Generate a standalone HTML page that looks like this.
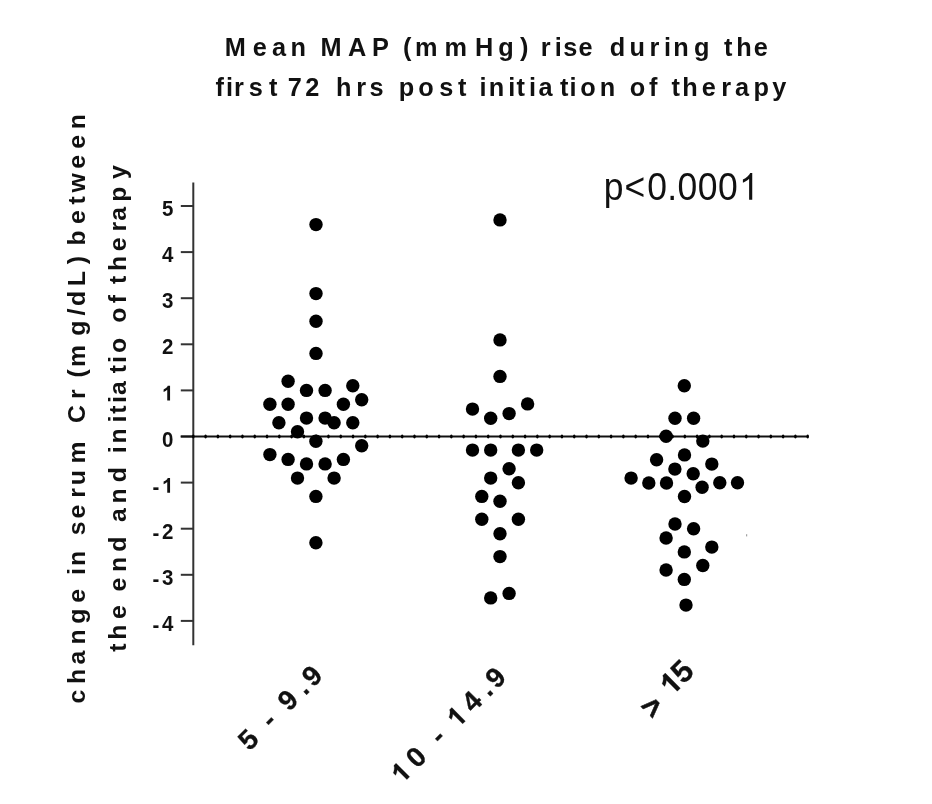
<!DOCTYPE html><html><head><meta charset="utf-8"><style>html,body{margin:0;padding:0;background:#fff;width:932px;height:804px;overflow:hidden}svg{display:block;will-change:transform}text{font-family:"Liberation Sans",sans-serif}</style></head><body>
<svg width="932" height="804" viewBox="0 0 932 804">
<rect width="932" height="804" fill="#fff"/>
<text y="55.8" x="224.7 252.7 272.1 290.4 305.9 320.5 347.9 371.9 388.8 403.0 415.1 444.5 475.1 498.2 520.1 528.5 540.7 554.7 563.2 578.4 592.5 609.8 629.4 649.5 663.9 673.3 693.9 709.3 723.9 736.3 753.8" font-weight="bold" font-size="25.3" fill="#111">Mean MAP (mmHg) rise during the</text>
<text y="95.5" x="215.5 226.1 234.1 248.8 269.0 277.4 287.7 305.3 319.4 335.9 356.2 369.5 383.6 398.7 418.3 439.3 458.1 466.5 479.6 488.7 508.2 516.6 529.1 538.6 559.9 569.6 580.2 599.7 615.2 629.7 649.1 657.5 671.6 682.3 701.8 721.3 734.9 753.4 772.3" font-weight="bold" font-size="25.3" fill="#111">first 72 hrs post initiation of therapy</text>
<text transform="rotate(-90)" y="85.0" x="-703.6 -683.9 -664.5 -644.5 -623.7 -602.8 -589.0 -575.1 -566.1 -551.0 -535.2 -518.4 -497.7 -485.2 -463.4 -441.4 -423.1 -398.9 -389.3 -377.6 -367.0 -335.7 -315.5 -305.9 -286.3 -264.2 -256.0 -245.4 -223.9 -204.5 -192.6 -168.8 -148.7 -129.2" font-weight="bold" font-size="24.8" fill="#111">change in serum Cr (mg/dL) between</text>
<text transform="rotate(-90)" y="125.8" x="-651.7 -639.7 -619.1 -605.3 -591.4 -572.1 -551.7 -536.6 -522.0 -503.5 -482.2 -467.1 -453.2 -443.6 -422.5 -413.8 -402.9 -395.0 -373.2 -363.1 -353.1 -337.9 -322.8 -303.3 -295.1 -283.9 -270.9 -251.3 -231.5 -220.8 -201.8 -179.0" font-weight="bold" font-size="24.8" fill="#111">the end and initiatio of therapy</text>
<line x1="193.3" y1="182.4" x2="193.3" y2="645.2" stroke="#333" stroke-width="2"/>
<line x1="180.8" y1="206.0" x2="193.3" y2="206.0" stroke="#333" stroke-width="2"/>
<text transform="translate(161.90,216.10) scale(1,1.05)" y="0.0" x="0.0" font-weight="bold" font-size="20.5" fill="#111">5</text>
<line x1="180.8" y1="252.1" x2="193.3" y2="252.1" stroke="#333" stroke-width="2"/>
<text transform="translate(161.90,262.20) scale(1,1.05)" y="0.0" x="0.0" font-weight="bold" font-size="20.5" fill="#111">4</text>
<line x1="180.8" y1="298.2" x2="193.3" y2="298.2" stroke="#333" stroke-width="2"/>
<text transform="translate(161.90,308.30) scale(1,1.05)" y="0.0" x="0.0" font-weight="bold" font-size="20.5" fill="#111">3</text>
<line x1="180.8" y1="344.3" x2="193.3" y2="344.3" stroke="#333" stroke-width="2"/>
<text transform="translate(161.90,354.40) scale(1,1.05)" y="0.0" x="0.0" font-weight="bold" font-size="20.5" fill="#111">2</text>
<line x1="180.8" y1="390.4" x2="193.3" y2="390.4" stroke="#333" stroke-width="2"/>
<text transform="translate(161.90,400.50) scale(1,1.05)" y="0.0" x="0.0" font-weight="bold" font-size="20.5" fill="#111"> </text>
<path transform="translate(161.90,400.50) scale(1,1.05) translate(0.00,0.00) scale(0.01001,-0.00962)" d="M815 0H534V1059C431 963 310 892 171 846V1101C244 1125 323 1170 409 1237C495 1304 554 1380 586 1466H815Z" fill="#111"/>
<line x1="180.8" y1="436.5" x2="193.3" y2="436.5" stroke="#333" stroke-width="2"/>
<text transform="translate(161.90,446.60) scale(1,1.05)" y="0.0" x="0.0" font-weight="bold" font-size="20.5" fill="#111">0</text>
<line x1="180.8" y1="482.6" x2="193.3" y2="482.6" stroke="#333" stroke-width="2"/>
<text transform="translate(161.90,492.70) scale(1,1.05)" y="0.0" x="0.0" font-weight="bold" font-size="20.5" fill="#111"> </text>
<path transform="translate(161.90,492.70) scale(1,1.05) translate(0.00,0.00) scale(0.01001,-0.00962)" d="M815 0H534V1059C431 963 310 892 171 846V1101C244 1125 323 1170 409 1237C495 1304 554 1380 586 1466H815Z" fill="#111"/>
<text transform="translate(152.60,493.50) scale(1,1.05)" x="0" y="0" font-weight="bold" font-size="20.5" fill="#111">-</text>
<line x1="180.8" y1="528.7" x2="193.3" y2="528.7" stroke="#333" stroke-width="2"/>
<text transform="translate(161.90,538.80) scale(1,1.05)" y="0.0" x="0.0" font-weight="bold" font-size="20.5" fill="#111">2</text>
<text transform="translate(152.60,539.60) scale(1,1.05)" x="0" y="0" font-weight="bold" font-size="20.5" fill="#111">-</text>
<line x1="180.8" y1="574.8" x2="193.3" y2="574.8" stroke="#333" stroke-width="2"/>
<text transform="translate(161.90,584.90) scale(1,1.05)" y="0.0" x="0.0" font-weight="bold" font-size="20.5" fill="#111">3</text>
<text transform="translate(152.60,585.70) scale(1,1.05)" x="0" y="0" font-weight="bold" font-size="20.5" fill="#111">-</text>
<line x1="180.8" y1="620.9" x2="193.3" y2="620.9" stroke="#333" stroke-width="2"/>
<text transform="translate(161.90,631.00) scale(1,1.05)" y="0.0" x="0.0" font-weight="bold" font-size="20.5" fill="#111">4</text>
<text transform="translate(152.60,631.80) scale(1,1.05)" x="0" y="0" font-weight="bold" font-size="20.5" fill="#111">-</text>
<line x1="180.7" y1="436.5" x2="807.7" y2="436.5" stroke="#111" stroke-width="2"/>
<ellipse cx="193.30" cy="436.50" rx="1.3" ry="1.9" fill="#000"/>
<ellipse cx="205.59" cy="436.50" rx="1.3" ry="1.9" fill="#000"/>
<ellipse cx="217.88" cy="436.50" rx="1.3" ry="1.9" fill="#000"/>
<ellipse cx="230.16" cy="436.50" rx="1.3" ry="1.9" fill="#000"/>
<ellipse cx="242.45" cy="436.50" rx="1.3" ry="1.9" fill="#000"/>
<ellipse cx="254.74" cy="436.50" rx="1.3" ry="1.9" fill="#000"/>
<ellipse cx="267.03" cy="436.50" rx="1.3" ry="1.9" fill="#000"/>
<ellipse cx="279.32" cy="436.50" rx="1.3" ry="1.9" fill="#000"/>
<ellipse cx="291.60" cy="436.50" rx="1.3" ry="1.9" fill="#000"/>
<ellipse cx="303.89" cy="436.50" rx="1.3" ry="1.9" fill="#000"/>
<ellipse cx="316.18" cy="436.50" rx="1.3" ry="1.9" fill="#000"/>
<ellipse cx="328.47" cy="436.50" rx="1.3" ry="1.9" fill="#000"/>
<ellipse cx="340.76" cy="436.50" rx="1.3" ry="1.9" fill="#000"/>
<ellipse cx="353.04" cy="436.50" rx="1.3" ry="1.9" fill="#000"/>
<ellipse cx="365.33" cy="436.50" rx="1.3" ry="1.9" fill="#000"/>
<ellipse cx="377.62" cy="436.50" rx="1.3" ry="1.9" fill="#000"/>
<ellipse cx="389.91" cy="436.50" rx="1.3" ry="1.9" fill="#000"/>
<ellipse cx="402.20" cy="436.50" rx="1.3" ry="1.9" fill="#000"/>
<ellipse cx="414.48" cy="436.50" rx="1.3" ry="1.9" fill="#000"/>
<ellipse cx="426.77" cy="436.50" rx="1.3" ry="1.9" fill="#000"/>
<ellipse cx="439.06" cy="436.50" rx="1.3" ry="1.9" fill="#000"/>
<ellipse cx="451.35" cy="436.50" rx="1.3" ry="1.9" fill="#000"/>
<ellipse cx="463.64" cy="436.50" rx="1.3" ry="1.9" fill="#000"/>
<ellipse cx="475.92" cy="436.50" rx="1.3" ry="1.9" fill="#000"/>
<ellipse cx="488.21" cy="436.50" rx="1.3" ry="1.9" fill="#000"/>
<ellipse cx="500.50" cy="436.50" rx="1.3" ry="1.9" fill="#000"/>
<ellipse cx="512.79" cy="436.50" rx="1.3" ry="1.9" fill="#000"/>
<ellipse cx="525.08" cy="436.50" rx="1.3" ry="1.9" fill="#000"/>
<ellipse cx="537.36" cy="436.50" rx="1.3" ry="1.9" fill="#000"/>
<ellipse cx="549.65" cy="436.50" rx="1.3" ry="1.9" fill="#000"/>
<ellipse cx="561.94" cy="436.50" rx="1.3" ry="1.9" fill="#000"/>
<ellipse cx="574.23" cy="436.50" rx="1.3" ry="1.9" fill="#000"/>
<ellipse cx="586.52" cy="436.50" rx="1.3" ry="1.9" fill="#000"/>
<ellipse cx="598.80" cy="436.50" rx="1.3" ry="1.9" fill="#000"/>
<ellipse cx="611.09" cy="436.50" rx="1.3" ry="1.9" fill="#000"/>
<ellipse cx="623.38" cy="436.50" rx="1.3" ry="1.9" fill="#000"/>
<ellipse cx="635.67" cy="436.50" rx="1.3" ry="1.9" fill="#000"/>
<ellipse cx="647.96" cy="436.50" rx="1.3" ry="1.9" fill="#000"/>
<ellipse cx="660.24" cy="436.50" rx="1.3" ry="1.9" fill="#000"/>
<ellipse cx="672.53" cy="436.50" rx="1.3" ry="1.9" fill="#000"/>
<ellipse cx="684.82" cy="436.50" rx="1.3" ry="1.9" fill="#000"/>
<ellipse cx="697.11" cy="436.50" rx="1.3" ry="1.9" fill="#000"/>
<ellipse cx="709.40" cy="436.50" rx="1.3" ry="1.9" fill="#000"/>
<ellipse cx="721.68" cy="436.50" rx="1.3" ry="1.9" fill="#000"/>
<ellipse cx="733.97" cy="436.50" rx="1.3" ry="1.9" fill="#000"/>
<ellipse cx="746.26" cy="436.50" rx="1.3" ry="1.9" fill="#000"/>
<ellipse cx="758.55" cy="436.50" rx="1.3" ry="1.9" fill="#000"/>
<ellipse cx="770.84" cy="436.50" rx="1.3" ry="1.9" fill="#000"/>
<ellipse cx="783.12" cy="436.50" rx="1.3" ry="1.9" fill="#000"/>
<ellipse cx="795.41" cy="436.50" rx="1.3" ry="1.9" fill="#000"/>
<ellipse cx="807.70" cy="436.50" rx="1.3" ry="1.9" fill="#000"/>
<circle cx="316" cy="224.6" r="6.7" fill="#000"/>
<circle cx="316" cy="293.6" r="6.7" fill="#000"/>
<circle cx="316" cy="321.2" r="6.7" fill="#000"/>
<circle cx="316" cy="353.4" r="6.7" fill="#000"/>
<circle cx="288.1" cy="381.3" r="6.7" fill="#000"/>
<circle cx="306.5" cy="390.4" r="6.7" fill="#000"/>
<circle cx="325.1" cy="390.4" r="6.7" fill="#000"/>
<circle cx="352.8" cy="385.8" r="6.7" fill="#000"/>
<circle cx="269.9" cy="404.2" r="6.7" fill="#000"/>
<circle cx="288.1" cy="404.2" r="6.7" fill="#000"/>
<circle cx="343.4" cy="404.2" r="6.7" fill="#000"/>
<circle cx="361.7" cy="399.7" r="6.7" fill="#000"/>
<circle cx="278.9" cy="422.8" r="6.7" fill="#000"/>
<circle cx="306.5" cy="418.1" r="6.7" fill="#000"/>
<circle cx="325.1" cy="418.1" r="6.7" fill="#000"/>
<circle cx="334.1" cy="422.8" r="6.7" fill="#000"/>
<circle cx="352.8" cy="422.8" r="6.7" fill="#000"/>
<circle cx="297.5" cy="431.8" r="6.7" fill="#000"/>
<circle cx="315.9" cy="441.2" r="6.7" fill="#000"/>
<circle cx="361.7" cy="445.7" r="6.7" fill="#000"/>
<circle cx="269.9" cy="454.6" r="6.7" fill="#000"/>
<circle cx="288.1" cy="459.4" r="6.7" fill="#000"/>
<circle cx="306.5" cy="463.9" r="6.7" fill="#000"/>
<circle cx="325.1" cy="463.9" r="6.7" fill="#000"/>
<circle cx="343.4" cy="459.4" r="6.7" fill="#000"/>
<circle cx="297.5" cy="478.1" r="6.7" fill="#000"/>
<circle cx="334.1" cy="478.1" r="6.7" fill="#000"/>
<circle cx="315.9" cy="496.4" r="6.7" fill="#000"/>
<circle cx="315.9" cy="542.7" r="6.7" fill="#000"/>
<circle cx="500" cy="219.9" r="6.7" fill="#000"/>
<circle cx="500" cy="339.9" r="6.7" fill="#000"/>
<circle cx="500" cy="376.4" r="6.7" fill="#000"/>
<circle cx="472.5" cy="409.1" r="6.7" fill="#000"/>
<circle cx="490.7" cy="418.2" r="6.7" fill="#000"/>
<circle cx="509.1" cy="413.6" r="6.7" fill="#000"/>
<circle cx="527.6" cy="403.9" r="6.7" fill="#000"/>
<circle cx="472.5" cy="450.1" r="6.7" fill="#000"/>
<circle cx="490.7" cy="450.1" r="6.7" fill="#000"/>
<circle cx="518.4" cy="450.1" r="6.7" fill="#000"/>
<circle cx="536.7" cy="450.1" r="6.7" fill="#000"/>
<circle cx="509.1" cy="468.8" r="6.7" fill="#000"/>
<circle cx="490.7" cy="478.1" r="6.7" fill="#000"/>
<circle cx="518.4" cy="482.7" r="6.7" fill="#000"/>
<circle cx="481.8" cy="496.4" r="6.7" fill="#000"/>
<circle cx="500" cy="501.2" r="6.7" fill="#000"/>
<circle cx="481.8" cy="519.3" r="6.7" fill="#000"/>
<circle cx="518.4" cy="519.3" r="6.7" fill="#000"/>
<circle cx="500" cy="533.7" r="6.7" fill="#000"/>
<circle cx="500" cy="556.6" r="6.7" fill="#000"/>
<circle cx="490.7" cy="597.9" r="6.7" fill="#000"/>
<circle cx="509.1" cy="593.4" r="6.7" fill="#000"/>
<circle cx="684.3" cy="385.7" r="6.7" fill="#000"/>
<circle cx="675.0" cy="418.2" r="6.7" fill="#000"/>
<circle cx="693.6" cy="418.2" r="6.7" fill="#000"/>
<circle cx="666.1" cy="436.3" r="6.7" fill="#000"/>
<circle cx="702.8" cy="441.1" r="6.7" fill="#000"/>
<circle cx="684.5" cy="454.9" r="6.7" fill="#000"/>
<circle cx="656.6" cy="459.7" r="6.7" fill="#000"/>
<circle cx="711.8" cy="464.1" r="6.7" fill="#000"/>
<circle cx="674.9" cy="469.1" r="6.7" fill="#000"/>
<circle cx="693.2" cy="473.8" r="6.7" fill="#000"/>
<circle cx="631.1" cy="478.1" r="6.7" fill="#000"/>
<circle cx="648.8" cy="483.0" r="6.7" fill="#000"/>
<circle cx="666.5" cy="483.0" r="6.7" fill="#000"/>
<circle cx="702.1" cy="487.2" r="6.7" fill="#000"/>
<circle cx="719.8" cy="482.7" r="6.7" fill="#000"/>
<circle cx="737.5" cy="482.7" r="6.7" fill="#000"/>
<circle cx="684.5" cy="496.5" r="6.7" fill="#000"/>
<circle cx="675.0" cy="524.0" r="6.7" fill="#000"/>
<circle cx="693.6" cy="528.8" r="6.7" fill="#000"/>
<circle cx="666.1" cy="538.0" r="6.7" fill="#000"/>
<circle cx="711.8" cy="547.1" r="6.7" fill="#000"/>
<circle cx="684.3" cy="551.9" r="6.7" fill="#000"/>
<circle cx="702.8" cy="565.5" r="6.7" fill="#000"/>
<circle cx="666.1" cy="570.0" r="6.7" fill="#000"/>
<circle cx="684.3" cy="579.4" r="6.7" fill="#000"/>
<circle cx="686.0" cy="605.1" r="6.7" fill="#000"/>
<rect x="746.1" y="534.2" width="1.1" height="2.2" fill="#9a9a9a"/>
<text transform="translate(0,199.8) scale(1,1.1)" y="0.0" x="603.7 624.5 647.2 667.2 677.5 697.8 718.0 739.0" font-size="35.5" fill="#111">p&lt;0.000 </text>
<path transform="translate(0,199.8) scale(1,1.1) translate(739.02,0.00) scale(0.01733,-0.01666)" d="M763 0H583V1147C540 1106 483 1064 413 1023C343 982 280 951 224 930V1104C325 1151 413 1209 488 1276C563 1343 616 1409 647 1466H763Z" fill="#111"/>
<text transform="rotate(-45)" x="-47.7" y="971.3" font-weight="bold" font-size="31" fill="#111" stroke="#111" stroke-width="0.5">&gt;</text>
<text transform="rotate(-45)" y="708.0" x="-355.0 -339.5 -323.6 -314.3 -299.4 -276.2 -265.1" font-weight="bold" font-size="27.8" fill="#111" stroke="#111" stroke-width="0.3">5 - 9.9</text>
<text transform="rotate(-45)" y="839.0" x="-270.8 -249.0 -233.6 -215.6 -206.4 -191.9 -170.1 -147.5 -136.4" font-weight="bold" font-size="27.8" fill="#111" stroke="#111" stroke-width="0.3"> 0 -  4.9</text>
<path transform="rotate(-45) translate(-270.75,838.96) scale(0.01357,-0.01304)" d="M815 0H534V1059C431 963 310 892 171 846V1101C244 1125 323 1170 409 1237C495 1304 554 1380 586 1466H815Z" fill="#111" stroke="#111" stroke-width="0.3" vector-effect="non-scaling-stroke"/>
<path transform="rotate(-45) translate(-191.94,838.96) scale(0.01357,-0.01304)" d="M815 0H534V1059C431 963 310 892 171 846V1101C244 1125 323 1170 409 1237C495 1304 554 1380 586 1466H815Z" fill="#111" stroke="#111" stroke-width="0.3" vector-effect="non-scaling-stroke"/>
<text transform="rotate(-45)" y="967.7" x="-17.9 -1.0" font-weight="bold" font-size="31.0" fill="#111" stroke="#111" stroke-width="0.3"> 5</text>
<path transform="rotate(-45) translate(-17.90,967.70) scale(0.01514,-0.01455)" d="M815 0H534V1059C431 963 310 892 171 846V1101C244 1125 323 1170 409 1237C495 1304 554 1380 586 1466H815Z" fill="#111" stroke="#111" stroke-width="0.3" vector-effect="non-scaling-stroke"/>
</svg></body></html>
